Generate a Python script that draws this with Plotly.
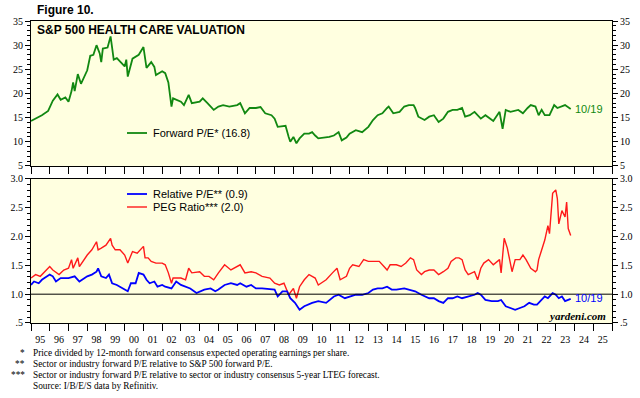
import plotly.graph_objects as go

# ---------------- data ----------------
pe_dates = ["1995-01","1995-08","1995-12","1996-03","1996-06","1996-08","1996-11","1997-01","1997-03","1997-04",
            "1997-05","1997-07","1997-09","1998-01","1998-03","1998-05","1998-07","1998-09","1998-10","1998-11",
            "1999-02","1999-04","1999-05","1999-06","1999-08","1999-11","2000-01","2000-02","2000-03","2000-06",
            "2000-08","2000-10","2001-01","2001-02","2001-03","2001-06","2001-08","2001-09","2002-01","2002-03",
            "2002-05","2002-07","2002-08","2003-01","2003-03","2003-06","2003-08","2004-01","2004-03","2004-06",
            "2004-10","2005-01","2005-04","2005-08","2006-01","2006-03","2006-06","2006-09","2007-01","2007-04",
            "2007-07","2007-11","2008-01","2008-03","2008-06","2008-08","2008-10","2008-11","2009-01","2009-03",
            "2009-05","2009-08","2009-11","2010-01","2010-03","2010-05","2010-12","2011-03","2011-06","2011-08",
            "2011-11","2012-01","2012-05","2012-09","2013-01","2013-04","2013-07","2013-10","2014-01","2014-02",
            "2014-05","2014-09","2014-12","2015-03","2015-06","2015-07","2015-09","2016-01","2016-04","2016-07",
            "2016-10","2017-01","2017-04","2017-07","2017-10","2018-01","2018-03","2018-06","2018-09","2019-01",
            "2019-04","2019-07","2019-09","2020-01","2020-03","2020-05","2020-08","2021-01","2021-04","2021-07",
            "2021-09","2021-12","2022-02","2022-04","2022-06","2022-09","2022-12","2023-02","2023-04","2023-07",
            "2023-10-19"]
forward_pe = [14.3,15.5,16.4,18.5,19.8,18.7,19.2,18.3,20.5,22.3,
              20.5,24.0,22.0,24.8,27.8,28.0,30.0,28.3,26.5,29.3,
              29.5,31.8,29.5,27.0,27.3,26.3,25.6,27.0,23.5,27.2,
              27.6,28.0,29.6,27.0,25.3,26.5,25.5,23.8,24.6,24.2,
              22.3,17.3,19.0,18.3,17.6,19.7,18.0,18.3,19.0,18.0,
              16.6,17.3,17.6,17.3,17.6,18.0,15.9,17.0,17.0,17.2,
              15.9,15.5,14.8,13.1,13.3,13.3,11.0,10.0,11.0,9.7,
              10.7,11.7,11.7,12.0,11.3,10.7,11.0,11.3,12.0,10.3,
              10.9,11.7,12.4,12.0,13.1,14.5,15.5,15.9,17.0,17.3,
              15.9,16.2,17.3,17.6,17.6,17.0,15.2,14.5,15.2,15.5,
              14.1,14.8,16.2,16.6,16.6,17.0,15.2,15.5,16.2,14.8,
              15.5,14.8,14.3,16.2,12.7,16.6,16.2,16.6,15.9,17.0,
              17.6,17.3,15.5,16.6,15.5,15.5,17.6,17.0,17.3,17.6,
              16.8]

rel_dates = ["1995-01","1995-03","1995-06","1995-08","1996-01","1996-03","1996-05","1996-08","1997-01","1997-05",
             "1997-08","1998-01","1998-04","1998-07","1998-08","1998-10","1999-01","1999-03","1999-05","1999-08",
             "2000-01","2000-03","2000-05","2000-08","2000-10","2001-01","2001-03","2001-05","2001-08","2001-10",
             "2002-01","2002-03","2002-07","2002-10","2003-01","2003-04","2003-07","2003-11","2004-01","2004-04",
             "2004-08","2004-11","2005-01","2005-05","2005-09","2006-01","2006-03","2006-07","2006-10","2007-01",
             "2007-05","2007-10","2008-01","2008-03","2008-06","2008-09","2008-11","2009-02","2009-05","2009-08",
             "2010-01","2010-05","2010-10","2011-03","2011-06","2011-10","2012-01","2012-05","2012-09","2013-01",
             "2013-04","2013-07","2013-10","2014-01","2014-04","2014-07","2014-12","2015-03","2015-07","2015-11",
             "2016-01","2016-04","2016-07","2016-10","2017-01","2017-04","2017-07","2017-10","2018-01","2018-05",
             "2018-09","2018-11","2019-01","2019-04","2019-08","2019-12","2020-02","2020-05","2020-08","2020-11",
             "2021-02","2021-05","2021-08","2021-11","2022-01","2022-04","2022-06","2022-08","2022-11","2023-01",
             "2023-03","2023-05","2023-07","2023-10-19"]
relative_pe = [1.16,1.22,1.19,1.25,1.34,1.31,1.22,1.28,1.28,1.31,
               1.22,1.31,1.34,1.39,1.45,1.31,1.28,1.34,1.19,1.16,
               1.08,1.05,1.19,1.19,1.37,1.34,1.25,1.19,1.22,1.13,
               1.16,1.13,1.10,1.22,1.16,1.13,1.10,1.02,1.05,1.08,
               1.10,1.05,1.08,1.16,1.19,1.16,1.19,1.13,1.16,1.10,
               1.10,1.08,1.08,0.96,1.05,1.05,0.93,0.85,0.73,0.79,
               0.85,0.88,0.85,0.96,0.99,0.93,0.96,0.99,0.99,1.02,
               1.08,1.10,1.10,1.13,1.08,1.08,1.10,1.08,1.05,0.99,
               0.97,0.93,0.93,0.88,0.85,0.93,0.93,0.96,0.93,0.96,
               0.99,1.02,0.99,0.90,0.88,0.88,0.90,0.79,0.76,0.73,
               0.76,0.79,0.85,0.82,0.82,0.90,0.96,0.93,1.02,0.99,
               0.93,0.96,0.88,0.92]

peg_dates = ["1995-01","1995-04","1995-07","1995-10","1996-01","1996-03","1996-07","1996-10","1997-01","1997-03",
             "1997-04","1997-07","1997-08","1998-01","1998-04","1998-07","1998-08","1998-10","1999-01","1999-04",
             "1999-05","1999-07","1999-10","2000-01","2000-03","2000-06","2000-09","2001-01","2001-02","2001-04",
             "2001-06","2001-09","2002-01","2002-03","2002-05","2002-07","2002-08","2003-01","2003-04","2003-06",
             "2003-08","2004-01","2004-04","2004-07","2004-10","2005-01","2005-05","2005-09","2006-01","2006-03",
             "2006-06","2006-10","2007-01","2007-05","2007-10","2008-01","2008-04","2008-07","2008-10","2009-01",
             "2009-03","2009-05","2009-08","2009-11","2010-01","2010-03","2010-05","2010-10","2011-02","2011-05",
             "2011-07","2011-11","2012-01","2012-03","2012-07","2012-10","2013-01","2013-05","2013-08","2013-11",
             "2014-01","2014-03","2014-07","2014-10","2015-01","2015-04","2015-06","2015-08","2015-11","2016-01",
             "2016-04","2016-07","2016-10","2017-01","2017-04","2017-06","2017-09","2017-11","2018-01","2018-03",
             "2018-05","2018-09","2018-11","2019-01","2019-03","2019-06","2019-09","2020-01","2020-02","2020-04",
             "2020-06","2020-09","2020-11","2021-02","2021-04","2021-06","2021-09","2021-12","2022-01","2022-02",
             "2022-04","2022-06","2022-08","2022-09","2022-11","2023-01","2023-02","2023-03","2023-05","2023-07",
             "2023-08","2023-09","2023-10-19"]
peg_ratio = [1.28,1.34,1.31,1.39,1.48,1.42,1.34,1.42,1.45,1.60,
             1.45,1.63,1.48,1.68,1.77,1.91,1.77,1.80,1.85,1.97,
             1.85,1.77,1.77,1.68,1.54,1.74,1.71,1.83,1.63,1.63,
             1.57,1.54,1.54,1.51,1.37,1.19,1.28,1.28,1.25,1.45,
             1.37,1.39,1.31,1.31,1.25,1.37,1.51,1.42,1.48,1.51,
             1.37,1.39,1.37,1.31,1.28,1.19,1.16,1.19,0.99,1.10,
             0.93,1.13,1.25,1.34,1.31,1.28,1.16,1.25,1.37,1.45,
             1.25,1.31,1.45,1.51,1.48,1.60,1.57,1.57,1.57,1.48,
             1.42,1.51,1.51,1.48,1.54,1.63,1.60,1.42,1.34,1.39,
             1.42,1.42,1.34,1.39,1.45,1.57,1.63,1.63,1.60,1.42,
             1.34,1.39,1.25,1.45,1.54,1.60,1.51,1.60,1.37,1.97,
             1.80,1.39,1.60,1.60,1.68,1.60,1.45,1.39,1.42,1.60,
             1.77,1.94,2.19,2.05,2.75,2.81,2.66,2.22,2.45,2.34,
             2.60,2.14,2.02]

pe_ticks = [5, 10, 15, 20, 25, 30, 35]
ratio_ticks = [0.5, 1.0, 1.5, 2.0, 2.5, 3.0]
ratio_tick_text = [".5", "1.0", "1.5", "2.0", "2.5", "3.0"]
x_range = ["1995-01-01", "2026-01-01"]

GREEN = "#118811"
BLUE = "#0000ff"
RED = "#ff1a1a"
BG = "#ffffe0"
SERIF = "Liberation Serif, Times New Roman, serif"
SANS = "Liberation Sans, Arial, sans-serif"

fig = go.Figure()
fig.add_trace(go.Scatter(x=pe_dates, y=forward_pe, mode="lines", line=dict(color=GREEN, width=1.8),
                         xaxis="x", yaxis="y", showlegend=False, hoverinfo="skip"))
fig.add_trace(go.Scatter(x=peg_dates, y=peg_ratio, mode="lines", line=dict(color=RED, width=1.4),
                         xaxis="x2", yaxis="y2", showlegend=False, hoverinfo="skip"))
fig.add_trace(go.Scatter(x=rel_dates, y=relative_pe, mode="lines", line=dict(color=BLUE, width=1.8),
                         xaxis="x2", yaxis="y2", showlegend=False, hoverinfo="skip"))
# invisible anchors so right-hand axes render
fig.add_trace(go.Scatter(x=pe_dates[:1], y=forward_pe[:1], mode="markers", marker=dict(opacity=0),
                         xaxis="x", yaxis="y3", showlegend=False, hoverinfo="skip"))
fig.add_trace(go.Scatter(x=rel_dates[:1], y=relative_pe[:1], mode="markers", marker=dict(opacity=0),
                         xaxis="x2", yaxis="y4", showlegend=False, hoverinfo="skip"))

tickfont = dict(family=SERIF, size=10, color="black")
xcommon = dict(type="date", range=x_range, dtick="M12", tick0="1995-01-01", ticks="outside",
               ticklen=7, tickwidth=1, tickcolor="black", showgrid=False, zeroline=False,
               showline=True, linecolor="black", linewidth=1, mirror=True, tickfont=tickfont,
               automargin=False)
ycommon = dict(ticks="outside", ticklen=5, tickwidth=1, tickcolor="black", showgrid=False,
               zeroline=False, showline=True, linecolor="black", linewidth=1, tickfont=tickfont,
               automargin=False)

top_dom = [0.52, 1.0]
bot_dom = [0.0, 0.477]

fig.update_layout(
    width=640, height=398,
    margin=dict(l=31, r=28, t=21, b=75),
    paper_bgcolor="white", plot_bgcolor=BG,
    xaxis=dict(**xcommon, domain=[0, 1], anchor="y", showticklabels=False),
    xaxis2=dict(**xcommon, domain=[0, 1], anchor="y2", showticklabels=True,
                tickformat="%y", ticklabelmode="period"),
    yaxis=dict(**ycommon, domain=top_dom, range=[5, 35], tickvals=pe_ticks, anchor="x", side="left",
               minor=dict(dtick=1, ticklen=3, ticks="outside", tickcolor="black", showgrid=False)),
    yaxis3=dict(**ycommon, range=[5, 35], tickvals=pe_ticks, overlaying="y", anchor="x", side="right",
                minor=dict(dtick=1, ticklen=3, ticks="outside", tickcolor="black", showgrid=False)),
    yaxis2=dict(**ycommon, domain=bot_dom, range=[0.5, 3.0], tickvals=ratio_ticks, ticktext=ratio_tick_text,
                anchor="x2", side="left",
                minor=dict(dtick=0.1, tick0=0.5, ticklen=3, ticks="outside", tickcolor="black", showgrid=False)),
    yaxis4=dict(**ycommon, range=[0.5, 3.0], tickvals=ratio_ticks, ticktext=ratio_tick_text,
                overlaying="y2", anchor="x2", side="right",
                minor=dict(dtick=0.1, tick0=0.5, ticklen=3, ticks="outside", tickcolor="black", showgrid=False)),
)

# reference line at 1.0
fig.add_shape(type="line", xref="x2 domain", yref="y2", x0=0, x1=1, y0=1.0, y1=1.0,
              line=dict(color="black", width=1))

# helpers to convert pixel positions to paper coords
PL, PW, PB, PH = 31, 581, 323, 302
def px(x):
    return (x - PL) / PW
def py(y):
    return (PB - y) / PH

def text(x, y, s, size=11, color="black", family=SANS, anchor="left", bold=False, italic=False):
    if bold:
        s = "<b>" + s + "</b>"
    if italic:
        s = "<i>" + s + "</i>"
    fig.add_annotation(x=px(x), y=py(y), xref="paper", yref="paper", text=s, showarrow=False,
                       xanchor=anchor, yanchor="middle", font=dict(size=size, color=color, family=family))

def swatch(x0, x1, y, color, width):
    fig.add_shape(type="line", xref="paper", yref="paper", x0=px(x0), x1=px(x1), y0=py(y), y1=py(y),
                  line=dict(color=color, width=width))

text(35, 10, "Figure 10.", size=12, bold=True)
text(35, 30, "S&P 500 HEALTH CARE VALUATION", size=12, bold=True)

swatch(127, 147, 133, GREEN, 1.8)
text(151, 133, "Forward P/E* (%.1f)" % forward_pe[-1], size=11)
swatch(127, 147, 194, BLUE, 1.8)
text(151, 194, "Relative P/E** (%.1f)" % relative_pe[-1], size=11)
swatch(127, 147, 207, RED, 1.4)
text(151, 207, "PEG Ratio*** (%.1f)" % peg_ratio[-1], size=11)

text(573, 109, "10/19", size=11, color=GREEN)
text(573, 298, "10/19", size=11, color=BLUE)
text(608, 316, "yardeni.com", size=11, family=SERIF, anchor="right", italic=True, bold=True)

notes = [("*", "Price divided by 12-month forward consensus expected operating earnings per share."),
         ("**", "Sector or industry forward P/E relative to S&P 500 forward P/E."),
         ("***", "Sector or industry forward P/E relative to sector or industry consensus 5-year LTEG forecast."),
         ("", "Source: I/B/E/S data by Refinitiv.")]
for i, (mark, note) in enumerate(notes):
    yy = 353 + i * 11
    if mark:
        text(27, yy, mark, size=9.3, family=SERIF, anchor="right")
    text(31, yy, note, size=9.3, family=SERIF)

fig.write_html("out.html", config={"displayModeBar": False},
               post_script="document.body.style.margin='0px';document.body.style.overflow='hidden';")
